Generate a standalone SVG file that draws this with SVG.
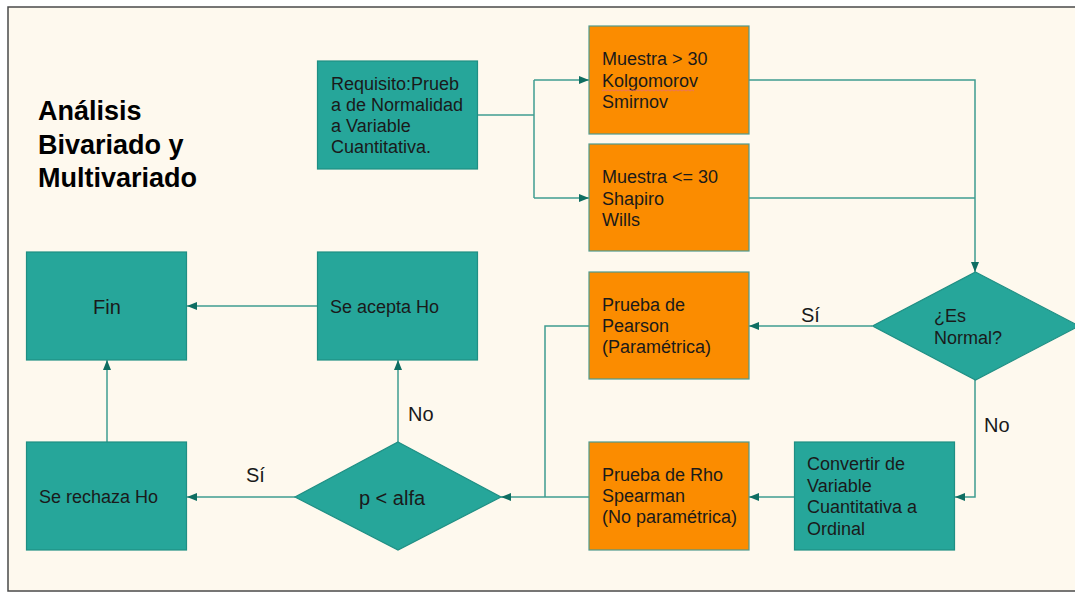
<svg xmlns="http://www.w3.org/2000/svg" width="1075" height="592" viewBox="0 0 1075 592">
  <style>
    .teal { fill: #26a69a; stroke: #1f8f84; stroke-width: 1.2; }
    .orange { fill: #fb8c00; stroke: #4f9a8e; stroke-width: 1.2; }
    .t { font-family: "Liberation Sans", Arial, sans-serif; font-size: 18px; fill: #1a1a1a; }
    .lbl { font-family: "Liberation Sans", Arial, sans-serif; font-size: 20px; fill: #1a1a1a; }
    .title { font-family: "Liberation Sans", Arial, sans-serif; font-size: 27px; font-weight: bold; fill: #000; }
    .conn { fill: none; stroke: #3f9c90; stroke-width: 1.5; }
  </style>
  <defs>
    <marker id="arr" markerUnits="userSpaceOnUse" markerWidth="11" markerHeight="9" refX="10" refY="4" orient="auto">
      <path d="M0,0 L10,4 L0,8 z" fill="#0f6e62"/>
    </marker>
  </defs>

  <rect x="0" y="0" width="1075" height="592" fill="#ffffff"/>
  <rect x="8" y="7" width="1080" height="584" fill="#fef9ee" stroke="#4a4a4a" stroke-width="1.5"/>

  <g id="title">
    <text class="title" x="38" y="120">Análisis</text>
    <text class="title" x="38" y="153.5">Bivariado y</text>
    <text class="title" x="38" y="187">Multivariado</text>
  </g>

  <g id="connectors">
    <polyline class="conn" points="478,115 534,115"/>
    <polyline class="conn" points="534,80 534,198"/>
    <polyline class="conn" points="534,80 589,80" marker-end="url(#arr)"/>
    <polyline class="conn" points="534,198 589,198" marker-end="url(#arr)"/>
    <polyline class="conn" points="749,80 975,80 975,272" marker-end="url(#arr)"/>
    <polyline class="conn" points="749,198 975,198"/>
    <polyline class="conn" points="872,326 749,326" marker-end="url(#arr)"/>
    <polyline class="conn" points="975,380 975,497 955,497" marker-end="url(#arr)"/>
    <polyline class="conn" points="795,497 749,497" marker-end="url(#arr)"/>
    <polyline class="conn" points="589,326 545,326 545,497"/>
    <polyline class="conn" points="589,497 501,497" marker-end="url(#arr)"/>
    <polyline class="conn" points="295,497 187,497" marker-end="url(#arr)"/>
    <polyline class="conn" points="398,442 398,360" marker-end="url(#arr)"/>
    <polyline class="conn" points="317,306 187,306" marker-end="url(#arr)"/>
    <polyline class="conn" points="107,442 107,360" marker-end="url(#arr)"/>
    <text class="lbl" x="801" y="322">Sí</text>
    <text class="lbl" x="984" y="432">No</text>
    <text class="lbl" x="246" y="482">Sí</text>
    <text class="lbl" x="408" y="421">No</text>
  </g>

  <g id="requisito">
    <rect class="teal" x="317.5" y="61" width="160" height="108"/>
    <text class="t" x="331" y="90">Requisito:Prueb</text>
    <text class="t" x="331" y="111">a de Normalidad</text>
    <text class="t" x="331" y="132">a Variable</text>
    <text class="t" x="331" y="153">Cuantitativa.</text>
  </g>

  <g id="muestra-mayor">
    <rect class="orange" x="589" y="26" width="160" height="108"/>
    <text class="t" x="602" y="65">Muestra &gt; 30</text>
    <text class="t" x="602" y="86.5">Kolgomorov</text>
    <text class="t" x="602" y="108">Smirnov</text>
    <path d="M602,91 l2,-1.2 l2,1.2 l2,-1.2 l2,1.2 l2,-1.2 l2,1.2 l2,-1.2 l2,1.2 l2,-1.2 l2,1.2 l2,-1.2 l2,1.2 l2,-1.2 l2,1.2 l2,-1.2 l2,1.2 l2,-1.2 l2,1.2 l2,-1.2 l2,1.2 l2,-1.2 l2,1.2 l2,-1.2 l2,1.2 l2,-1.2 l2,1.2 l2,-1.2 l2,1.2 l2,-1.2 l2,1.2 l2,-1.2 l2,1.2 l2,-1.2 l2,1.2 l2,-1.2 l2,1.2 l2,-1.2 l2,1.2 l2,-1.2 l2,1.2 l2,-1.2 l2,1.2 l2,-1.2 l2,1.2 l2,-1.2 l2,1.2" fill="none" stroke="#e8706a" stroke-width="0.9"/>
  </g>

  <g id="muestra-menor">
    <rect class="orange" x="589" y="144" width="160" height="107"/>
    <text class="t" x="602" y="183">Muestra &lt;= 30</text>
    <text class="t" x="602" y="204.5">Shapiro</text>
    <text class="t" x="602" y="226">Wills</text>
  </g>

  <g id="es-normal">
    <polygon class="teal" points="975.5,272 1079,326 975.5,380 872.5,326"/>
    <text class="t" x="934" y="322">¿Es</text>
    <text class="t" x="934" y="343.5">Normal?</text>
  </g>

  <g id="pearson">
    <rect class="orange" x="589" y="272" width="160" height="107"/>
    <text class="t" x="602" y="311">Prueba de</text>
    <text class="t" x="602" y="332">Pearson</text>
    <text class="t" x="602" y="353">(Paramétrica)</text>
  </g>

  <g id="convertir">
    <rect class="teal" x="794.5" y="442" width="160" height="108"/>
    <text class="t" x="807" y="470">Convertir de</text>
    <text class="t" x="807" y="491.5">Variable</text>
    <text class="t" x="807" y="513">Cuantitativa a</text>
    <text class="t" x="807" y="534.5">Ordinal</text>
  </g>

  <g id="spearman">
    <rect class="orange" x="589" y="442" width="160" height="108"/>
    <text class="t" x="602" y="481">Prueba de Rho</text>
    <text class="t" x="602" y="502">Spearman</text>
    <text class="t" x="602" y="523">(No paramétrica)</text>
  </g>

  <g id="p-alfa">
    <polygon class="teal" points="398,442 501,497 398,550 295,497"/>
    <text class="lbl" x="392" y="505" text-anchor="middle">p &lt; alfa</text>
  </g>

  <g id="se-acepta">
    <rect class="teal" x="317.5" y="252" width="160" height="108"/>
    <text class="t" x="330" y="313">Se acepta Ho</text>
  </g>

  <g id="fin">
    <rect class="teal" x="26.5" y="252" width="160" height="108"/>
    <text class="lbl" x="107" y="314" text-anchor="middle">Fin</text>
  </g>

  <g id="se-rechaza">
    <rect class="teal" x="26.5" y="442" width="160" height="108"/>
    <text class="t" x="39" y="503">Se rechaza Ho</text>
  </g>
</svg>
